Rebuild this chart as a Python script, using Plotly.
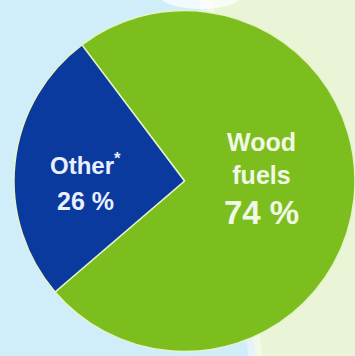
import math
import plotly.graph_objects as go

# ---- data ----
labels = ["Wood<br>fuels", "Other<sup>*</sup>"]
values = [74, 26]
value_text = ["74 %", "26 %"]
colors = ["#7dbe1f", "#0b3a9f"]
text_colors = ["#f1f8e4", "#e9f0ff"]

# ---- layout constants (pixels) ----
W, H = 355, 356
CX, CY, R = 186, 181, 172          # pie centre (from top) and radius
ROTATION = -37

fig = go.Figure()
fig.add_trace(go.Pie(
    labels=labels,
    values=values,
    sort=False,
    direction="clockwise",
    rotation=ROTATION,
    marker=dict(colors=colors, line=dict(color="#e4f3c8", width=1.5)),
    textinfo="none",
    hoverinfo="label+percent",
    showlegend=False,
    domain=dict(x=[(CX - R) / W, min(1, (CX + R) / W)],
                y=[max(0, (H - CY - R) / H), min(1, (H - CY + R) / H)]),
))

# label anchors computed from slice mid-angles (horizontal placement)
total = sum(values)
radial = [0.44, 0.59]
name_shift = [23, 17]
value_shift = [-31, -20]
name_size = [25, 24]
value_size = [33, 25]
cum = 0
for i, v in enumerate(values):
    mid = math.radians(ROTATION + (cum + v / 2) * 360 / total)
    cum += v
    px = CX + radial[i] * R * math.sin(mid)
    ax = px / W
    ay = 1 - CY / H
    fig.add_annotation(x=ax, y=ay, xref="paper", yref="paper",
                       text="<b>" + labels[i] + "</b>", showarrow=False,
                       yshift=name_shift[i],
                       font=dict(family="Liberation Sans, Arial", size=name_size[i],
                                 color=text_colors[i]),
                       xanchor="center", yanchor="middle", align="center")
    fig.add_annotation(x=ax, y=ay, xref="paper", yref="paper",
                       text="<b>" + value_text[i] + "</b>", showarrow=False,
                       yshift=value_shift[i],
                       font=dict(family="Liberation Sans, Arial", size=value_size[i],
                                 color=text_colors[i]),
                       xanchor="center", yanchor="middle", align="center")

fig.update_layout(
    width=W, height=H,
    margin=dict(l=0, r=0, t=0, b=0),
    paper_bgcolor="#eaf5d7",
    plot_bgcolor="rgba(0,0,0,0)",
    shapes=[
        dict(type="path", xref="paper", yref="paper", layer="below",
             path="M 0 1 L 0.58 1 L 0.72 0 L 0 0 Z",
             fillcolor="#d0eef9", line=dict(width=0)),
        dict(type="line", xref="paper", yref="paper", layer="below",
             x0=0.58, y0=1, x1=0.72, y1=0,
             line=dict(color="rgba(255,255,255,0.4)", width=14)),
        dict(type="circle", xref="paper", yref="paper", layer="below",
             x0=0.45, x1=0.68, y0=0.975, y1=1.05,
             fillcolor="rgba(255,255,255,0.7)", line=dict(width=0)),
    ],
)

fig.write_html("out.html")
